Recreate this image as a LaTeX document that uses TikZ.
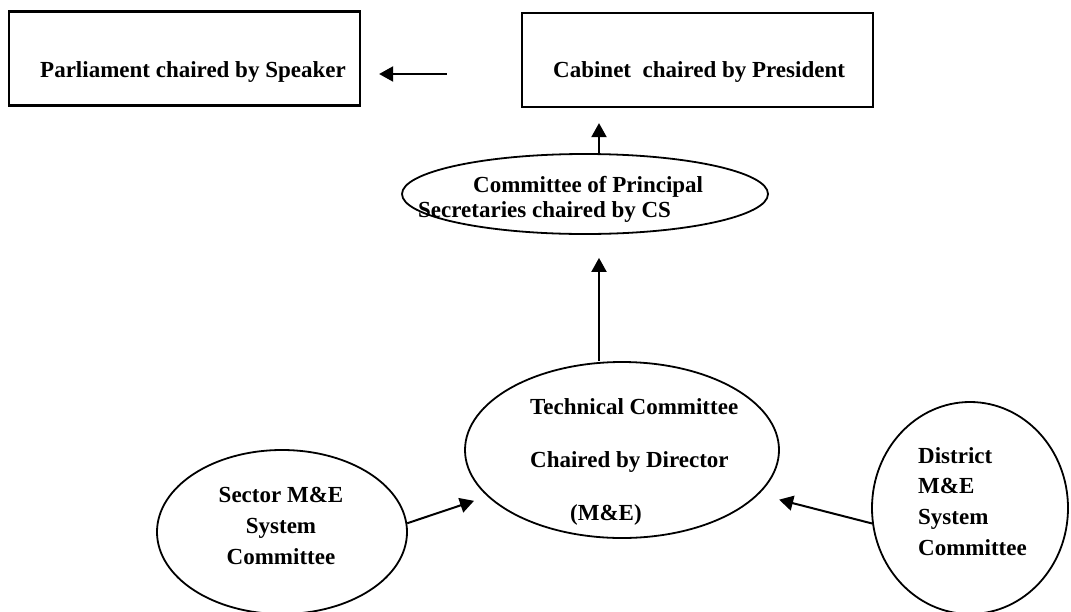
\documentclass[tikz,border=0pt]{standalone}
\usepackage{fontspec}
\setmainfont{Liberation Serif}
\usetikzlibrary{shapes.geometric,arrows.meta}

\begin{document}
\begin{tikzpicture}[x=1pt, y=-1pt,
    boxnode/.style={draw, line width=2.2pt, minimum width=351pt, minimum height=94pt, inner sep=0pt},
    ovalnode/.style={draw, ellipse, line width=1.8pt, inner sep=0pt},
    txt/.style={inner sep=0pt, align=left, font=\bfseries\fontsize{23}{25}\selectfont},
    arr/.style={line width=2pt, -{Triangle[width=15pt,length=14pt]}}]
  \useasboundingbox (0,0) rectangle (1071,611);
  % boxes and ovals
  \node[boxnode] (parl) at (184.5,58.5) {};
  \node[boxnode] (cab) at (697.5,60) {};
  \node[ovalnode, minimum width=366pt, minimum height=80pt] (comm) at (585,194) {};
  \node[ovalnode, minimum width=314pt, minimum height=176pt] (tech) at (622,450) {};
  \node[ovalnode, minimum width=250pt, minimum height=164pt] (sector) at (282,532) {};
  \node[ovalnode, minimum width=196pt, minimum height=212pt] (dist) at (970,508) {};
  % texts
  \node[txt, anchor=base west] (parltext) at (40,77) {Parliament chaired by Speaker};
  \node[txt, anchor=base west] (cabtext) at (553,77) {Cabinet\ \ chaired by President};
  \node[txt, anchor=north west] (commtext) at (418,176)
    {\hspace*{55pt}Committee of Principal\\Secretaries chaired by CS};
  \node[txt, anchor=north west, font=\bfseries\fontsize{23}{53}\selectfont] (techtext) at (530,398)
    {Technical Committee\\Chaired by Director\\\hspace*{40pt}(M\&E)};
  \node[txt, anchor=north, align=center, font=\bfseries\fontsize{23}{31}\selectfont] (sectortext) at (281,487)
    {Sector M\&E\\System\\Committee};
  \node[txt, anchor=north west, font=\bfseries\fontsize{23}{30.7}\selectfont] (disttext) at (918,447)
    {District\\M\&E\\System\\Committee};
  % arrows
  \draw[arr, shorten <=74pt, shorten >=18pt] ([yshift=-14pt]cab.west) -- ([yshift=-15.5pt]parl.east);
  \draw[arr, shorten >=15pt] ([xshift=14pt]comm.north) -- ([xshift=-98.5pt]cab.south);
  \draw[arr, shorten >=23pt] ([xshift=-23pt]tech.north) -- ([xshift=14pt]comm.south);
  \draw[arr, shorten >=14pt] (sector.4) -- (tech.199);
  \draw[arr, shorten >=21pt] (dist.189) -- (tech.342);
\end{tikzpicture}
\end{document}
